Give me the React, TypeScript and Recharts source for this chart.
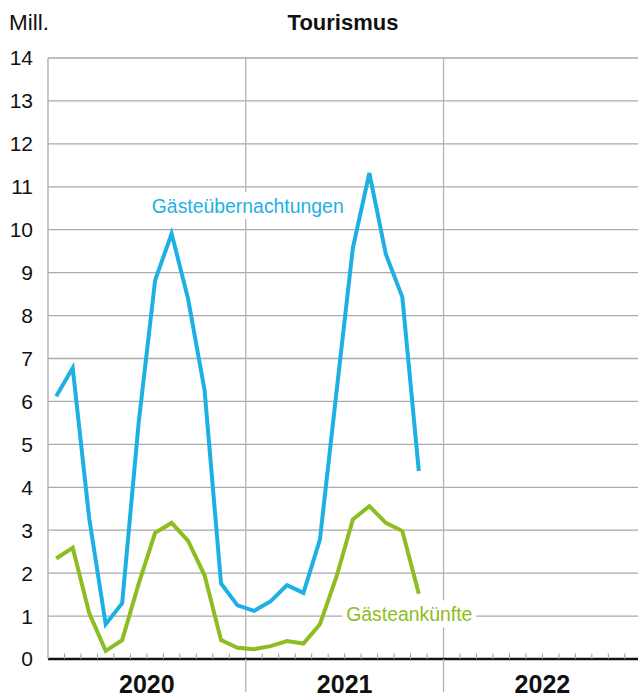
import React from 'react';
import { LineChart, Line, XAxis, YAxis, CartesianGrid, ReferenceLine, ReferenceDot } from 'recharts';

const months = [
  '2020-01', '2020-02', '2020-03', '2020-04', '2020-05', '2020-06',
  '2020-07', '2020-08', '2020-09', '2020-10', '2020-11', '2020-12',
  '2021-01', '2021-02', '2021-03', '2021-04', '2021-05', '2021-06',
  '2021-07', '2021-08', '2021-09', '2021-10', '2021-11',
];
const overnightStays = [
  6.12, 6.78, 3.28, 0.81, 1.3, 5.5, 8.82, 9.91, 8.39, 6.26, 1.76, 1.25,
  1.12, 1.34, 1.72, 1.54, 2.78, 6.2, 9.58, 11.32, 9.43, 8.43, 4.38,
];
const arrivals = [
  2.34, 2.59, 1.07, 0.19, 0.44, 1.75, 2.94, 3.17, 2.75, 1.95, 0.44, 0.26,
  0.23, 0.3, 0.42, 0.36, 0.81, 1.91, 3.25, 3.56, 3.17, 2.98, 1.52,
];
const years = ['2020', '2021', '2022'];
const yTicks = [0, 1, 2, 3, 4, 5, 6, 7, 8, 9, 10, 11, 12, 13, 14];
const monthBoundaries = [
  1, 2, 3, 4, 5, 6, 7, 8, 9, 10, 11, 12, 13, 14, 15, 16, 17, 18,
  19, 20, 21, 22, 23, 24, 25, 26, 27, 28, 29, 30, 31, 32, 33, 34, 35,
];
const yearBoundaries = [12, 24];
const title = 'Tourismus';
const unit = 'Mill.';
const label1 = { text: 'Gästeübernachtungen', x: 12.12, y: 10.55 };
const label2 = { text: 'Gästeankünfte', x: 21.92, y: 1.04 };

const BLUE = '#1FB0E3';
const GREEN = '#8CBE22';
const FONT = '"Liberation Sans", Arial, Helvetica, sans-serif';

const data = months.map((m, i) => ({
  m: i + 0.5,
  month: m,
  stays: overnightStays[i],
  arrivals: arrivals[i],
}));

const MonthTick = (props: any) => {
  const { x, y, payload } = props;
  const v = payload.value;
  if (v % 12 === 0) {
    return <line x1={x} x2={x} y1={y} y2={y + 33} stroke="#b3b3b3" strokeWidth={1.3} />;
  }
  const yearIdx = Math.floor(v / 12);
  return (
    <g>
      <line x1={x} x2={x} y1={y - 5.5} y2={y} stroke="#999" strokeWidth={1} />
      {v % 12 === 6 ? (
        <text x={x} y={y + 34} textAnchor="middle" fontFamily={FONT} fontWeight="bold" fontSize={25} fill="#111">
          {years[yearIdx]}
        </text>
      ) : null}
    </g>
  );
};

const makeLabel = (text: string, color: string, w: number) => (props: any) => {
  const { cx, cy } = props;
  return (
    <g>
      <rect x={cx - w / 2} y={cy - 14} width={w} height={27} fill="#fff" />
      <text x={cx} y={cy + 7} textAnchor="middle" fontFamily={FONT} fontSize={19.4} fill={color}>
        {text}
      </text>
    </g>
  );
};

export default function App() {
  return (
    <div style={{ position: 'absolute', left: 0, top: 0, width: 638, height: 698, background: '#fff' }}>
      <LineChart
        width={638}
        height={698}
        data={data}
        margin={{ top: 58, right: 0, bottom: 38, left: 0 }}
      >
        <CartesianGrid vertical={false} stroke="#aaaaaa" strokeWidth={1.3} />
        <XAxis
          dataKey="m"
          type="number"
          domain={[0, 35.8]}
          allowDataOverflow
          ticks={monthBoundaries}
          interval={0}
          height={1}
          tickSize={0}
          tickMargin={0}
          tick={<MonthTick />}
          axisLine={{ stroke: '#111', strokeWidth: 2.5 }}
          tickLine={false}
        />
        <YAxis
          type="number"
          domain={[0, 14]}
          ticks={yTicks}
          interval={0}
          width={48}
          tickSize={0}
          tickMargin={15}
          axisLine={{ stroke: '#aaaaaa', strokeWidth: 1.3 }}
          tickLine={false}
          tick={{ fontFamily: FONT, fontSize: 21, fill: '#111' }}
        />
        {yearBoundaries.map((b) => (
          <ReferenceLine key={b} x={b} stroke="#b3b3b3" strokeWidth={1.3} />
        ))}
        <Line
          type="linear"
          dataKey="stays"
          stroke={BLUE}
          strokeWidth={4}
          dot={false}
          isAnimationActive={false}
        />
        <Line
          type="linear"
          dataKey="arrivals"
          stroke={GREEN}
          strokeWidth={4}
          dot={false}
          isAnimationActive={false}
        />
        <ReferenceDot x={label1.x} y={label1.y} r={0} shape={makeLabel(label1.text, BLUE, 200)} />
        <ReferenceDot x={label2.x} y={label2.y} r={0} shape={makeLabel(label2.text, GREEN, 134)} />
      </LineChart>
      <svg width={638} height={60} style={{ position: 'absolute', left: 0, top: 0, pointerEvents: 'none' }}>
        <text x={9} y={29.5} fontFamily={FONT} fontSize={22.5} fill="#111">
          {unit}
        </text>
        <text x={343} y={30} textAnchor="middle" fontFamily={FONT} fontWeight="bold" fontSize={22} fill="#111">
          {title}
        </text>
      </svg>
    </div>
  );
}
